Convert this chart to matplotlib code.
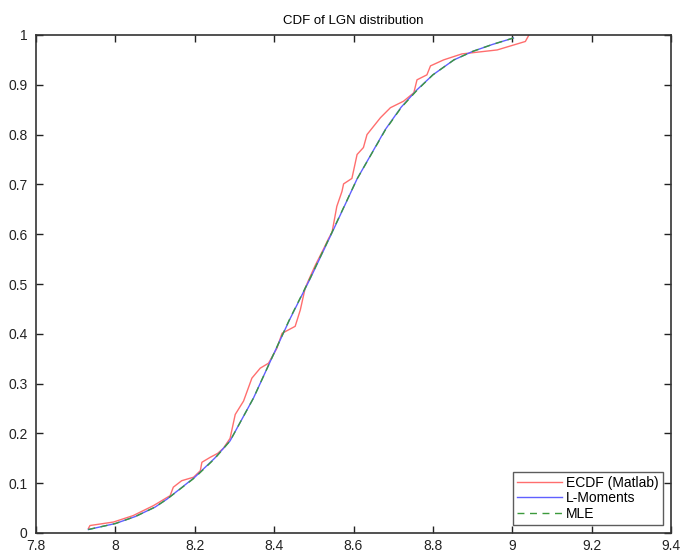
import numpy as np
import matplotlib
matplotlib.use("Agg")
import matplotlib.pyplot as plt

plt.rcParams['font.family'] = ['Liberation Sans', 'DejaVu Sans']

ecdf_x = [7.932, 7.936, 7.995, 8.045, 8.096, 8.138, 8.146, 8.167, 8.197, 8.214,
          8.218, 8.239, 8.258, 8.272, 8.289, 8.302, 8.323, 8.344, 8.365, 8.386,
          8.407, 8.420, 8.453, 8.466, 8.478, 8.487, 8.504, 8.525, 8.537, 8.546,
          8.558, 8.571, 8.575, 8.596, 8.609, 8.625, 8.634, 8.668, 8.693, 8.726,
          8.752, 8.760, 8.785, 8.794, 8.827, 8.873, 8.962, 9.033, 9.042]
ecdf_y = [0.009, 0.015, 0.022, 0.035, 0.055, 0.075, 0.092, 0.105, 0.112, 0.125,
          0.142, 0.152, 0.160, 0.170, 0.190, 0.238, 0.265, 0.311, 0.331, 0.341,
          0.371, 0.401, 0.415, 0.448, 0.491, 0.508, 0.538, 0.571, 0.591, 0.604,
          0.656, 0.686, 0.701, 0.712, 0.760, 0.774, 0.800, 0.834, 0.854, 0.867,
          0.884, 0.910, 0.920, 0.938, 0.950, 0.962, 0.970, 0.987, 1.0]

# fitted CDFs (L-moments and MLE nearly coincide)
fit_x = [7.932, 8.0, 8.05, 8.1, 8.13, 8.2, 8.25, 8.289, 8.348, 8.394, 8.44,
         8.491, 8.55, 8.609, 8.68, 8.72, 8.76, 8.8, 8.853, 8.9, 8.95, 9.003]
lmom_y = [0.007, 0.019, 0.033, 0.052, 0.068, 0.112, 0.150, 0.185, 0.271, 0.351,
          0.430, 0.511, 0.610, 0.711, 0.810, 0.855, 0.890, 0.920, 0.950, 0.967,
          0.981, 0.994]
mle_y = [0.007, 0.019, 0.033, 0.052, 0.068, 0.111, 0.149, 0.185, 0.271, 0.351,
         0.431, 0.512, 0.611, 0.711, 0.809, 0.854, 0.889, 0.920, 0.950, 0.967,
         0.981, 0.994]

xticks = [7.8, 8.0, 8.2, 8.4, 8.6, 8.8, 9.0, 9.2, 9.4]
xlabels = ['7.8', '8', '8.2', '8.4', '8.6', '8.8', '9', '9.2', '9.4']
yticks = [0, 0.1, 0.2, 0.3, 0.4, 0.5, 0.6, 0.7, 0.8, 0.9, 1]
ylabels = ['0', '0.1', '0.2', '0.3', '0.4', '0.5', '0.6', '0.7', '0.8', '0.9', '1']

fig = plt.figure(figsize=(6.83, 5.54), dpi=100)
ax = fig.add_axes([36 / 683, 21 / 554, 635 / 683, 498 / 554])

ax.plot(ecdf_x, ecdf_y, color='#ff6e6e', lw=1.0, label='ECDF (Matlab)')
ax.plot(fit_x, lmom_y, color='#6060ff', lw=1.0, label='L-Moments')
ax.plot(fit_x, mle_y, color='#3c9a3c', lw=1.0, ls=(0, (5, 4)), label='MLE')

ax.set_xlim(7.8, 9.4)
ax.set_ylim(0, 1)
ax.set_xticks(xticks)
ax.set_xticklabels(xlabels)
ax.set_yticks(yticks)
ax.set_yticklabels(ylabels)
ax.tick_params(direction='in', length=5, width=1, top=True, right=True,
               labelsize=10, colors='#222222')
ax.tick_params(axis='x', pad=4)
ax.tick_params(axis='y', pad=6)
for s in ax.spines.values():
    s.set_linewidth(1.2)
    s.set_color('#333333')

ax.set_title('CDF of LGN distribution', fontsize=9.5, pad=8)

leg = ax.legend(loc='lower right', fontsize=10, frameon=True, fancybox=False,
                borderaxespad=0.6, handlelength=3.2, handletextpad=0.3,
                labelspacing=0.1, borderpad=0.3)
leg.get_frame().set_edgecolor('#333333')
leg.get_frame().set_linewidth(1.0)

fig.savefig('out.png', dpi=100)
